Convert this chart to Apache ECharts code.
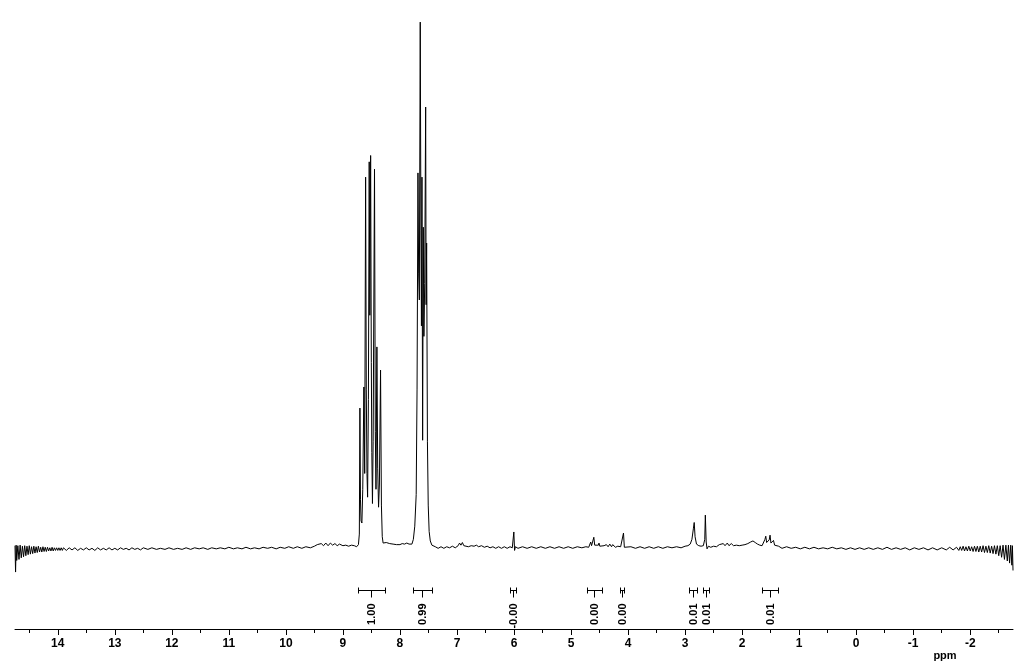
<!DOCTYPE html>
<html><head><meta charset="utf-8">
<script src="https://cdn.jsdelivr.net/npm/echarts@6/dist/echarts.min.js"></script>
<style>html,body{margin:0;padding:0;background:#fff}#c{width:1024px;height:667px}</style>
</head><body><div id="c"></div>
<script>
// ---- axis ticks ----
const majorTicks = [14,13,12,11,10,9,8,7,6,5,4,3,2,1,0,-1,-2];
const minorTicks = [14.5,13.5,12.5,11.5,10.5,9.5,8.5,7.5,6.5,5.5,4.5,3.5,2.5,1.5,0.5,-0.5,-1.5,-2.5];
const axisName = 'ppm';

// ---- integrals ----
const integralFrom   = [8.74, 7.77, 6.07, 4.72, 4.14, 2.93, 2.68, 1.65];
const integralTo     = [8.26, 7.44, 5.96, 4.46, 4.07, 2.79, 2.58, 1.37];
const integralLabels = ['1.00','0.99','-0.00','0.00','0.00','0.01','0.01','0.01'];

// ---- spectrum segments [ppm, intensity] ----
const leftEdge = [[14.75,0.3],[14.74,-4.7],[14.73,0.4],[14.72,-2.5],[14.70,0.3],[14.68,-2.3],[14.66,0.4],[14.64,-2.0],[14.62,0.2],[14.60,-1.8],[14.58,0.3],[14.56,-1.6],[14.54,0.2],[14.52,-1.4],[14.50,0.3],[14.48,-1.3],[14.46,0.1],[14.44,-1.2],[14.42,0.2],[14.40,-1.1],[14.38,0.1],[14.36,-1.0],[14.34,0.2],[14.32,-0.9],[14.30,0.0],[14.28,-0.9],[14.26,0.1],[14.24,-0.8],[14.22,0.0],[14.20,-0.8],[14.18,0.0],[14.16,-0.7],[14.14,-0.1],[14.12,-0.7],[14.10,0.0],[14.08,-0.7],[14.06,-0.1],[14.04,-0.6],[14.02,-0.1],[14.00,-0.6],[13.98,-0.1],[13.96,-0.6],[13.94,-0.1],[13.92,-0.6]];
const leftBaseline = [[13.90,-0.1],[13.85,-0.6],[13.80,-0.1],[13.75,-0.5],[13.70,-0.1],[13.65,-0.6],[13.60,-0.2],[13.55,-0.5],[13.50,-0.1],[13.45,-0.5],[13.40,-0.2],[13.35,-0.6],[13.30,-0.1],[13.25,-0.5],[13.20,-0.2],[13.15,-0.5],[13.10,-0.1],[13.05,-0.5],[13.00,-0.2],[12.95,-0.5],[12.90,-0.1],[12.85,-0.4],[12.80,-0.2],[12.75,-0.5],[12.70,-0.1],[12.65,-0.4],[12.60,-0.2],[12.55,-0.5],[12.50,-0.1],[12.42,-0.4],[12.35,-0.1],[12.27,-0.4],[12.20,-0.2],[12.12,-0.4],[12.05,-0.1],[11.97,-0.4],[11.90,-0.2],[11.82,-0.4],[11.75,-0.1],[11.67,-0.4],[11.60,-0.1],[11.52,-0.3],[11.45,-0.1],[11.37,-0.4],[11.30,-0.1],[11.22,-0.3],[11.15,-0.1],[11.07,-0.3],[11.00,0.0],[10.92,-0.3],[10.85,-0.1],[10.77,-0.3],[10.70,0.0],[10.62,-0.3],[10.55,-0.1],[10.47,-0.3],[10.40,0.0],[10.32,-0.2],[10.25,0.0],[10.17,-0.3],[10.10,0.0],[10.02,-0.2],[9.95,0.1],[9.87,-0.2],[9.80,0.1],[9.72,-0.2],[9.65,0.1],[9.57,-0.1]];
const bumps94 = [[9.50,0.2],[9.45,0.5],[9.42,0.2],[9.38,0.7],[9.34,0.3],[9.30,0.8],[9.26,0.3],[9.22,0.8],[9.18,0.4],[9.14,0.7],[9.10,0.3],[9.06,0.6],[9.00,0.3],[8.95,0.4],[8.90,0.2],[8.85,0.4],[8.80,0.3]];
const multiplet85 = [[8.76,0.1],[8.728,0.5],[8.712,2.5],[8.702,26.4],[8.692,9],[8.682,5],[8.667,4.6],[8.652,11],[8.632,30.4],[8.618,14],[8.602,70.2],[8.590,30],[8.578,14],[8.567,9.5],[8.553,28],[8.539,73.1],[8.528,44],[8.514,74.3],[8.502,35],[8.493,18],[8.482,8.3],[8.470,20],[8.446,71.7],[8.432,22],[8.420,11],[8.404,38],[8.390,15],[8.375,7.6],[8.360,12],[8.340,33.6],[8.325,8],[8.31,2],[8.295,0.8],[8.27,0.6]];
const gap80 = [[8.24,0.9],[8.21,1.2],[8.18,0.7],[8.15,1.0],[8.12,0.6],[8.09,0.9],[8.06,0.5],[8.03,0.8],[8.00,0.5],[7.96,0.7],[7.92,0.6],[7.88,0.8],[7.84,0.6],[7.81,0.5]];
const multiplet76 = [[7.79,0.6],[7.765,1.5],[7.74,4],[7.715,10],[7.70,30],[7.684,71],[7.672,52],[7.66,46.9],[7.644,99.6],[7.632,60],[7.623,42],[7.614,70.2],[7.602,20.3],[7.591,60.7],[7.580,40],[7.566,50],[7.549,83.5],[7.541,46],[7.532,57.7],[7.518,20],[7.504,8],[7.488,3],[7.468,1.2],[7.44,0.4],[7.41,0.2]];
const baselineMid = [[7.38,0.1],[7.33,-0.2],[7.28,0.1],[7.23,-0.2],[7.18,0.1],[7.13,-0.1],[7.08,0.2],[7.03,-0.1],[6.98,0.3],[6.955,0.8],[6.93,0.4],[6.905,0.9],[6.88,0.3],[6.85,0.5],[6.80,0.1],[6.75,0.3],[6.70,0.2],[6.66,0.4],[6.62,0.1],[6.57,0.3],[6.52,0.0],[6.47,0.2],[6.42,-0.1],[6.37,0.1],[6.32,-0.2],[6.27,0.1],[6.22,-0.2],[6.17,0.1],[6.12,-0.2],[6.07,0.1],[6.03,-0.1]];
const peak60 = [[6.015,0.1],[6.003,2.9],[5.99,-0.6],[5.975,0.1]];
const baseline55 = [[5.93,-0.2],[5.85,0.1],[5.77,-0.2],[5.69,0.1],[5.61,-0.2],[5.53,0.1],[5.45,-0.2],[5.37,0.1],[5.29,-0.2],[5.21,0.1],[5.13,-0.2],[5.05,0.1],[4.97,-0.2],[4.89,0.1],[4.81,-0.1],[4.74,0.1],[4.69,0.0]];
const peaks46 = [[4.665,0.3],[4.655,1.0],[4.64,0.3],[4.62,0.6],[4.60,1.9],[4.585,0.4],[4.55,0.2],[4.52,0.4],[4.51,0.8],[4.495,0.2],[4.46,0.1],[4.42,0.3],[4.38,0.5],[4.35,0.1],[4.32,0.6],[4.29,0.1],[4.27,0.5],[4.22,0.0],[4.18,0.2],[4.13,0.1]];
const peak41 = [[4.095,0.2],[4.08,2.7],[4.065,0.0]];
const baseline35 = [[4.03,-0.2],[3.95,0.1],[3.87,-0.2],[3.79,0.1],[3.71,-0.2],[3.63,0.1],[3.55,-0.2],[3.47,0.1],[3.39,-0.2],[3.31,0.1],[3.23,-0.1],[3.15,0.1],[3.07,-0.1],[3.00,0.2],[2.95,0.3]];
const peaks27 = [[2.91,0.6],[2.88,1.5],[2.855,3.5],[2.84,4.7],[2.825,2.0],[2.80,0.6],[2.76,0.3],[2.72,0.2],[2.68,0.3],[2.655,1.5],[2.645,6.1],[2.63,1.0],[2.615,-0.3],[2.59,0.2]];
const peaks20 = [[2.55,0.0],[2.50,0.2],[2.45,0.1],[2.40,0.5],[2.37,0.2],[2.33,0.7],[2.30,0.3],[2.26,0.8],[2.23,0.3],[2.19,0.7],[2.15,0.3],[2.10,0.4],[2.05,0.3],[2.00,0.4],[1.95,0.5],[1.90,0.7],[1.85,1.0],[1.81,1.2],[1.77,0.9],[1.73,0.6],[1.69,0.4],[1.65,0.3],[1.62,0.6],[1.60,1.5],[1.585,2.1],[1.57,0.9],[1.545,0.6],[1.525,1.4],[1.51,2.3],[1.495,0.8],[1.47,0.5],[1.45,1.3],[1.43,0.4],[1.40,0.1],[1.36,0.2]];
const rightBaseline = [[1.30,-0.2],[1.22,0.1],[1.14,-0.2],[1.06,0.0],[0.98,-0.3],[0.90,0.0],[0.82,-0.3],[0.74,0.0],[0.66,-0.3],[0.58,-0.1],[0.50,-0.3],[0.42,0.0],[0.34,-0.3],[0.26,-0.1],[0.18,-0.4],[0.10,-0.1],[0.02,-0.4],[-0.06,-0.1],[-0.14,-0.4],[-0.22,-0.1],[-0.30,-0.4],[-0.38,-0.1],[-0.46,-0.4],[-0.54,0.0],[-0.62,-0.4],[-0.70,-0.1],[-0.78,-0.4],[-0.86,-0.1],[-0.94,-0.5],[-1.02,-0.1],[-1.10,-0.4],[-1.18,-0.1],[-1.26,-0.5],[-1.34,-0.1],[-1.42,-0.5],[-1.50,-0.1],[-1.58,-0.5],[-1.64,0.0],[-1.70,-0.5],[-1.76,0.0]];
const rightEdge = [[-1.80,-0.6],[-1.825,0.1],[-1.85,-0.6],[-1.875,0.2],[-1.90,-0.7],[-1.925,0.1],[-1.95,-0.7],[-1.975,0.2],[-2.00,-0.7],[-2.025,0.1],[-2.05,-0.8],[-2.075,0.2],[-2.10,-0.8],[-2.125,0.2],[-2.15,-0.9],[-2.175,0.2],[-2.20,-0.9],[-2.225,0.3],[-2.25,-1.0],[-2.275,0.2],[-2.30,-1.0],[-2.325,0.3],[-2.35,-1.1],[-2.375,0.2],[-2.40,-1.2],[-2.425,0.3],[-2.45,-1.3],[-2.475,0.3],[-2.50,-1.6],[-2.525,0.3],[-2.55,-1.9],[-2.575,0.4],[-2.60,-2.3],[-2.625,0.4],[-2.65,-2.6],[-2.67,0.4],[-2.69,-3.0],[-2.71,0.4],[-2.73,-3.4],[-2.74,0.3],[-2.75,-4.4]];

const spectrum = [].concat(leftEdge, leftBaseline, bumps94, multiplet85, gap80, multiplet76,
  baselineMid, peak60, baseline55, peaks46, peak41, baseline35, peaks27, peaks20, rightBaseline, rightEdge)
  .sort((a, b) => b[0] - a[0]);

const integrals = integralFrom.map((f, i) => [f, integralTo[i], i]);
const BRACKET_Y = -8.1;
const FONT = '"Liberation Sans", Arial, sans-serif';

const chart = echarts.init(document.getElementById('c'), null, {renderer: 'canvas'});
chart.setOption({
  animation: false,
  backgroundColor: '#fff',
  grid: {left: 15, right: 11, top: 20, bottom: 38},
  xAxis: [{
    type: 'value', min: -2.75, max: 14.75, inverse: true, position: 'bottom',
    axisLine: {onZero: false, lineStyle: {color: '#000', width: 1}},
    axisTick: {customValues: majorTicks, length: 6, lineStyle: {color: '#000', width: 1}},
    axisLabel: {customValues: majorTicks, formatter: v => String(v), color: '#000', fontSize: 12,
      fontWeight: 'bold', fontFamily: FONT, margin: 9},
    splitLine: {show: false}
  }, {
    type: 'value', min: -2.75, max: 14.75, inverse: true, position: 'bottom',
    axisLine: {show: false, onZero: false},
    axisTick: {customValues: minorTicks, length: 4, lineStyle: {color: '#000', width: 1}},
    axisLabel: {show: false},
    splitLine: {show: false}
  }],
  yAxis: {type: 'value', min: -15.5, max: 100, show: false},
  series: [{
    type: 'line', xAxisIndex: 0, data: spectrum, showSymbol: false, symbol: 'none',
    lineStyle: {color: '#000', width: 1}, silent: true
  }, {
    type: 'custom', xAxisIndex: 0, data: integrals, silent: true,
    encode: {x: [0, 1]},
    renderItem: function (params, api) {
      const a = api.coord([api.value(0), BRACKET_Y]);
      const b = api.coord([api.value(1), BRACKET_Y]);
      const y = Math.round(a[1]) + 0.5;
      const x1 = Math.round(a[0]) + 0.5, x2 = Math.round(b[0]) + 0.5;
      const mid = Math.round((a[0] + b[0]) / 2) + 0.5;
      const st = {stroke: '#000', lineWidth: 1};
      return {type: 'group', children: [
        {type: 'line', shape: {x1: x1, y1: y, x2: x2, y2: y}, style: st},
        {type: 'line', shape: {x1: x1, y1: y - 3, x2: x1, y2: y + 3}, style: st},
        {type: 'line', shape: {x1: x2, y1: y - 3, x2: x2, y2: y + 3}, style: st},
        {type: 'line', shape: {x1: mid, y1: y, x2: mid, y2: y + 7}, style: st},
        {type: 'text', x: mid, y: y + 13, rotation: Math.PI / 2,
          style: {text: integralLabels[api.value(2)], fill: '#000', fontSize: 11, fontFamily: FONT,
            fontWeight: 'bold', align: 'right', verticalAlign: 'middle'}}
      ]};
    }
  }],
  graphic: [{
    type: 'text', x: 945, y: 656,
    style: {text: axisName, fill: '#000', fontSize: 11, fontWeight: 'bold', fontFamily: FONT,
      align: 'center', verticalAlign: 'middle'}
  }]
});
</script>
</body></html>
